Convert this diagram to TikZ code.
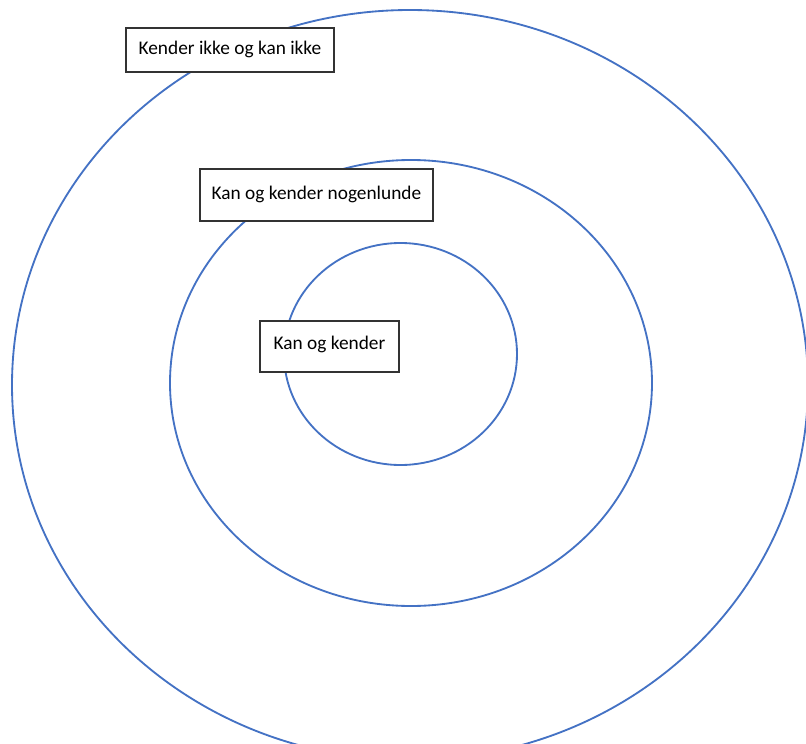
\documentclass[tikz,border=0pt]{standalone}
\usepackage{fontspec}
\setmainfont{Carlito}
\usepackage{xcolor}
\definecolor{ringblue}{HTML}{4472C4}

\begin{document}
\begin{tikzpicture}[
  x=0.02cm, y=-0.02cm,
  ring/.style={draw=ringblue, line width=1.05pt},
  label/.style={draw=black!80, line width=1.1pt, fill=white, font=\fontsize{11}{13}\selectfont,
    anchor=north west, inner sep=0pt, align=center}
]
  \useasboundingbox (0,0) rectangle (806,744);
  \clip (0,0) rectangle (806,744);

  % Rings
  \draw[ring] (410,385) ellipse [x radius=398, y radius=375];
  \draw[ring] (411,383) ellipse [x radius=241, y radius=223];
  \draw[ring] (400.5,354) ellipse [x radius=116.5, y radius=111];

  % Labels
  \node[label, minimum width=208*0.02cm, minimum height=44*0.02cm] (outer) at (125,27) {\raisebox{3pt}{Kender ikke og kan ikke}};
  \node[label, minimum width=233*0.02cm, minimum height=52*0.02cm] (middle) at (199,168) {\raisebox{3pt}{Kan og kender nogenlunde}};
  \node[label, minimum width=139*0.02cm, minimum height=51*0.02cm] (inner) at (259,320) {\raisebox{4pt}{Kan og kender}};

\end{tikzpicture}
\end{document}
